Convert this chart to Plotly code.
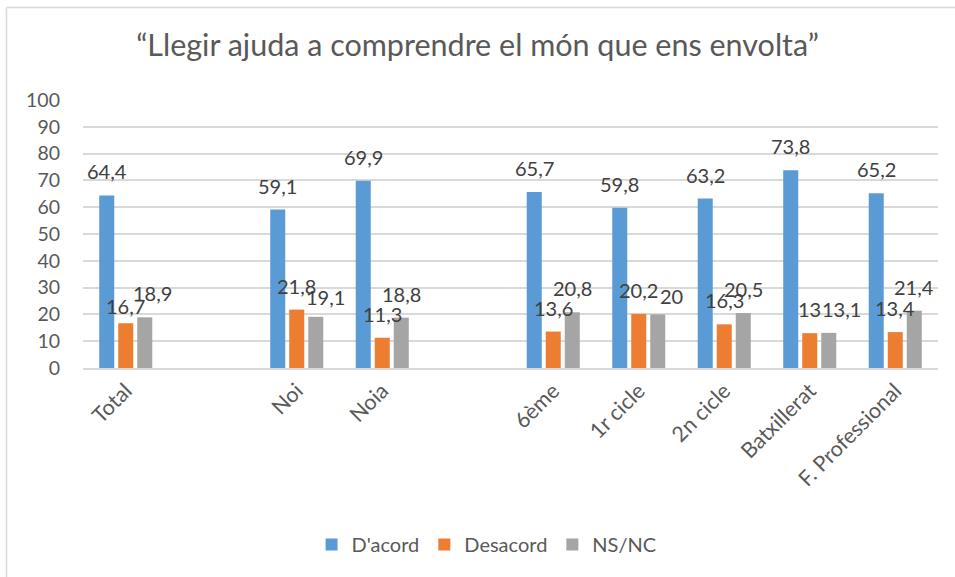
import plotly.graph_objects as go

categories = ["Total", " ", "Noi", "Noia", "  ", "6ème", "1r cicle", "2n cicle", "Batxillerat", "F. Professional"]
dacord = [64.4, None, 59.1, 69.9, None, 65.7, 59.8, 63.2, 73.8, 65.2]
desacord = [16.7, None, 21.8, 11.3, None, 13.6, 20.2, 16.3, 13, 13.4]
nsnc = [18.9, None, 19.1, 18.8, None, 20.8, 20, 20.5, 13.1, 21.4]
series_names = ["D'acord", "Desacord", "NS/NC"]
colors = ["#5B9BD5", "#ED7D31", "#A5A5A5"]
y_ticks = [0, 10, 20, 30, 40, 50, 60, 70, 80, 90, 100]
title = "“Llegir ajuda a comprendre el món que ens envolta”"

FONT = "Lato"
W, H = 955, 577
ML, MR, MT, MB = 83, 17, 100, 209
BARGAP = 0.333
LABEL_LIFT = 24
# small label nudges (px) mimicking the reference's label placement
label_nudge = {
    ("Desacord", "Total"): (0, -6.5),
    ("NS/NC", "Total"): (8, 0),
    ("NS/NC", "Noi"): (10, -4),
    ("NS/NC", "1r cicle"): (14, -6),
    ("NS/NC", "Batxillerat"): (13, 0),
}


def fmt(v):
    return ("%g" % v).replace(".", ",")


fig = go.Figure()
for name, vals, col in zip(series_names, [dacord, desacord, nsnc], colors):
    fig.add_trace(go.Bar(x=categories, y=vals, name=name, marker_color=col, marker_line_width=0))

plot_w = W - ML - MR
step = plot_w / len(categories) * (1 - BARGAP) / len(series_names)
annotations = []
for i, (name, vals) in enumerate(zip(series_names, [dacord, desacord, nsnc])):
    for cat, v in zip(categories, vals):
        if v is None:
            continue
        dx, dy = label_nudge.get((name, cat), (0, 0))
        annotations.append(dict(
            x=cat, y=v, xref="x", yref="y", text=fmt(v), showarrow=False,
            xanchor="center", yanchor="middle",
            xshift=(i - 1) * step + dx, yshift=LABEL_LIFT + dy,
            font=dict(family=FONT, size=20, color="#404040"),
        ))

fig.update_layout(
    width=W, height=H,
    margin=dict(l=ML, r=MR, t=MT, b=MB),
    paper_bgcolor="white", plot_bgcolor="white",
    barmode="group", bargap=BARGAP, bargroupgap=0.21,
    title=dict(text=title, x=0.5, xref="container", xanchor="center", y=0.922, yanchor="middle",
               font=dict(family=FONT, size=30.5, color="#595959")),
    font=dict(family=FONT, color="#595959"),
    showlegend=True,
    legend=dict(orientation="h", x=0.472, xref="paper", xanchor="center", y=-0.659, yanchor="middle",
                font=dict(family=FONT, size=20, color="#595959"), traceorder="normal"),
    annotations=annotations,
)
fig.update_xaxes(
    type="category", categoryorder="array", categoryarray=categories,
    tickangle=-45, tickfont=dict(family=FONT, size=21.5, color="#595959"),
    showgrid=False, showline=True, linecolor="#D9D9D9", linewidth=1.5, ticks="",
    automargin=False,
)
fig.update_yaxes(
    range=[0, 100], tickvals=y_ticks, tickfont=dict(family=FONT, size=19.5, color="#595959"),
    showgrid=True, gridcolor="#D9D9D9", gridwidth=1.5, zeroline=False, showline=False,
    ticks="", ticklabelstandoff=22, automargin=False,
)
# chart border (only top/left edges visible in the reference)
border = dict(color="#D9D9D9", width=1.5)
fig.add_shape(type="line", xref="paper", yref="paper", x0=-0.0895, x1=-0.0895, y0=-0.9, y1=1.345,
              line=border, layer="below")
fig.add_shape(type="line", xref="paper", yref="paper", x0=-0.0895, x1=1.1, y0=1.345, y1=1.345,
              line=border, layer="below")

fig.write_html("out.html", config={"displayModeBar": False},
               post_script="document.body.style.margin='0';document.body.style.overflow='hidden';")
